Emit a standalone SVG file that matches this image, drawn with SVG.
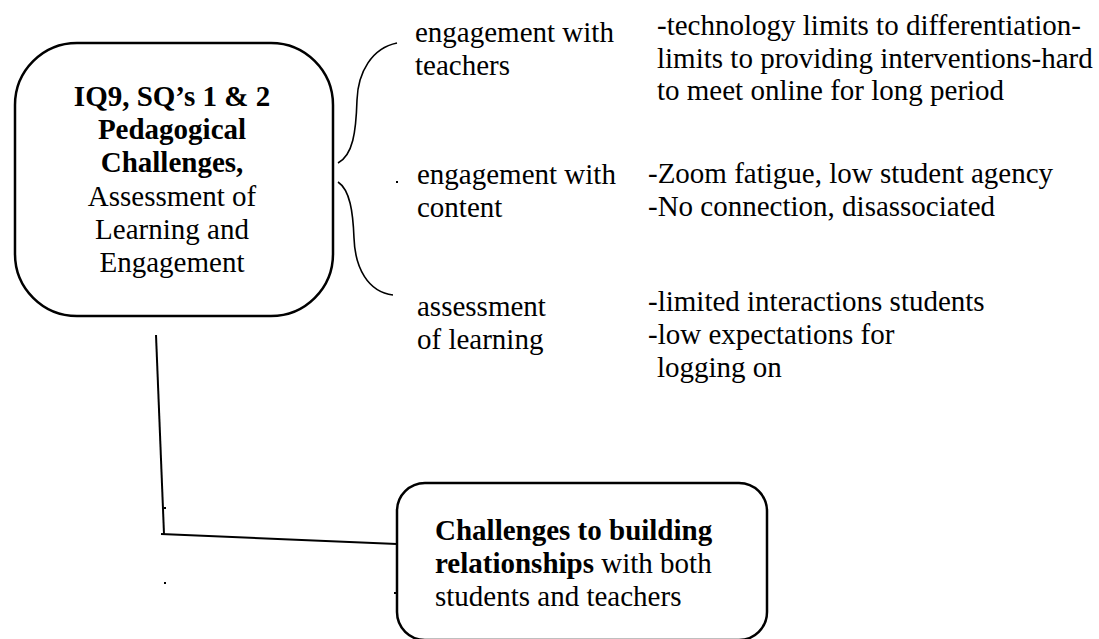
<svg xmlns="http://www.w3.org/2000/svg" width="1099" height="639" viewBox="0 0 1099 639">
<style>
text{font-family:"Liberation Serif","Times New Roman",serif;font-size:29px;fill:#000}
.b{font-weight:bold}
.box{fill:#fff;stroke:#000;stroke-width:2.5}
.ln{fill:none;stroke:#000;stroke-width:2}
.br{fill:none;stroke:#000;stroke-width:1.6}
</style>
<rect width="1099" height="639" fill="#fff"/>
<g id="connectors">
<polyline class="ln" points="156,335 164,534"/>
<line class="ln" x1="161" y1="534" x2="397" y2="544"/>
<path class="br" d="M397,43 C372,48 358,72 357,100 C356,132 353,155 338,163"/>
<path class="br" d="M338,182 C350,190 353,212 354,238 C355,268 368,292 393,295"/>
</g>
<g id="main">
<rect class="box" x="15" y="43" width="318" height="273" rx="62" ry="62"/>
<text x="172" text-anchor="middle"><tspan class="b" x="172" y="106">IQ9, SQ’s 1 &amp; 2</tspan><tspan class="b" x="172" y="139">Pedagogical</tspan><tspan class="b" x="172" y="172">Challenges,</tspan><tspan x="172" y="206">Assessment of</tspan><tspan x="172" y="239">Learning and</tspan><tspan x="172" y="272">Engagement</tspan></text>
</g>
<g id="label-teachers">
<text x="415" y="42">engagement with</text><text x="415" y="75">teachers</text>
</g>
<g id="label-content">
<text x="417" y="184">engagement with</text><text x="417" y="217">content</text>
</g>
<g id="label-assessment">
<text x="417" y="316">assessment</text><text x="417" y="349">of learning</text>
</g>
<g id="detail-teachers">
<text x="657" y="35">-technology limits to differentiation-</text><text x="657" y="68">limits to providing interventions-hard</text><text x="657" y="100">to meet online for long period</text>
</g>
<g id="detail-content">
<text x="648" y="183">-Zoom fatigue, low student agency</text><text x="648" y="216">-No connection, disassociated</text>
</g>
<g id="detail-assessment">
<text x="648" y="311">-limited interactions students</text><text x="648" y="344">-low expectations for</text><text x="657" y="377">logging on</text>
</g>
<g id="relationships">
<rect class="box" x="397" y="483" width="370" height="157" rx="28" ry="28"/>
<text x="435" y="540"><tspan class="b">Challenges to building</tspan></text>
<text x="435" y="573"><tspan class="b">relationships</tspan> with both</text>
<text x="435" y="606">students and teachers</text>
</g>
<g id="specks" fill="#000">
<rect x="396" y="181" width="2" height="2"/>
<rect x="164" y="507" width="2" height="2"/>
<rect x="164" y="582" width="2" height="2"/>
<rect x="394" y="592" width="3" height="2"/>
</g>
</svg>
